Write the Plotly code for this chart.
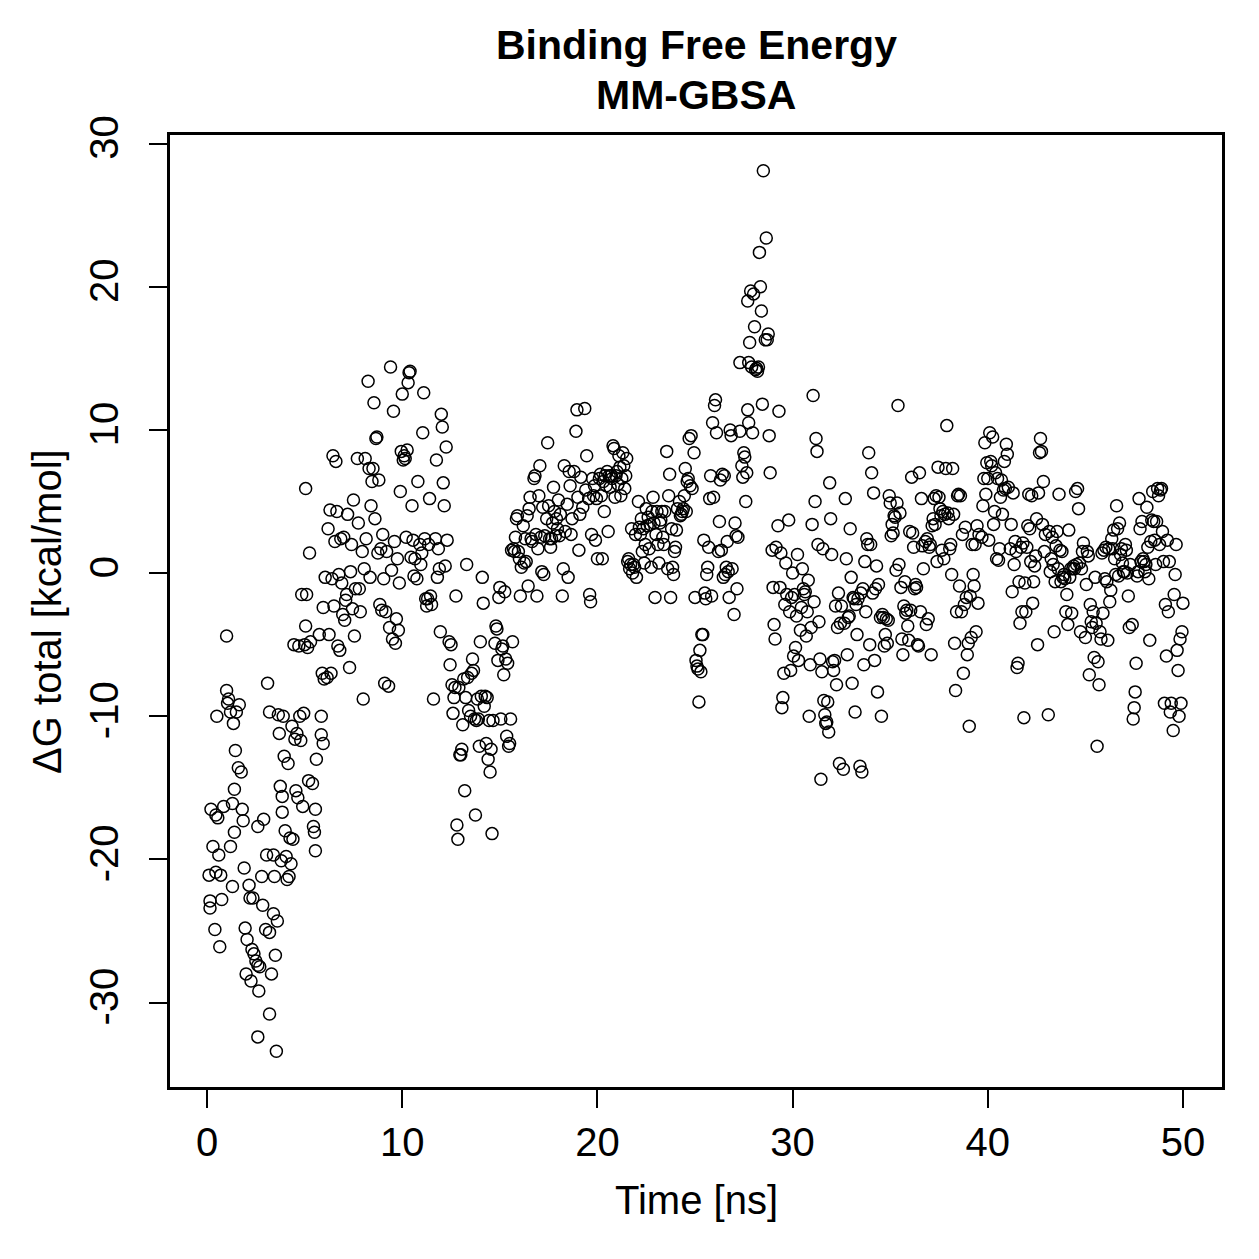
import plotly.graph_objects as go

# ---- data: time [ns] and Delta G total [kcal/mol] ----
t_00_05 = [0.1,0.15,0.15,0.2,0.3,0.4,0.45,0.45,0.5,0.55,
 0.6,0.65,0.7,0.75,0.85,1.0,1.0,1.05,1.1,1.2,
 1.2,1.3,1.3,1.35,1.4,1.4,1.45,1.5,1.6,1.65,
 1.75,1.8,1.85,1.9,1.95,2.0,2.05,2.15,2.2,2.25,
 2.3,2.35,2.4,2.5,2.6,2.6,2.6,2.65,2.7,2.8,
 2.85,2.9,3.0,3.05,3.1,3.2,3.2,3.2,3.3,3.4,
 3.4,3.45,3.5,3.55,3.6,3.65,3.7,3.75,3.8,3.85,
 3.85,3.9,3.95,4.0,4.05,4.1,4.15,4.2,4.25,4.3,
 4.35,4.4,4.45,4.5,4.55,4.6,4.65,4.7,4.75,4.8,
 4.85,4.9,4.95]
g_00_05 = [-21.1,-22.9,-23.4,-16.5,-19.1,-24.9,-16.9,-20.9,-10.0,-17.1,
 -19.7,-26.1,-21.1,-22.8,-16.3,-4.4,-8.2,-9.1,-8.8,-9.7,
 -19.1,-21.9,-16.1,-10.5,-18.1,-15.1,-12.4,-9.7,-13.6,-9.2,
 -13.9,-16.5,-17.3,-20.6,-24.8,-28.0,-25.6,-21.8,-22.7,-28.5,
 -26.3,-22.7,-26.6,-27.1,-32.4,-17.7,-27.4,-29.2,-27.5,-21.2,
 -23.2,-17.2,-24.9,-19.7,-7.7,-9.7,-30.8,-25.1,-28.0,-19.7,
 -23.8,-21.2,-26.7,-33.4,-24.3,-9.9,-11.2,-14.9,-20.1,-15.6,
 -16.7,-10.0,-12.8,-18.0,-19.8,-21.4,-13.3,-21.2,-18.5,-20.3,
 -10.7,-18.6,-5.0,-11.6,-15.2,-11.2,-15.7,-5.1,-10.0,-11.7,
 -1.5,-16.3,-9.8]

t_05_10 = [5.0,5.05,5.05,5.1,5.15,5.2,5.25,5.3,5.4,5.45,
 5.5,5.55,5.55,5.6,5.75,5.85,5.85,5.9,5.95,5.95,
 6.0,6.05,6.15,6.2,6.25,6.3,6.35,6.4,6.45,6.5,
 6.55,6.6,6.65,6.7,6.75,6.8,6.85,6.9,6.95,7.0,
 7.05,7.1,7.15,7.2,7.3,7.35,7.4,7.45,7.5,7.55,
 7.6,7.7,7.75,7.8,7.85,7.95,8.0,8.05,8.1,8.15,
 8.25,8.3,8.35,8.4,8.45,8.5,8.55,8.6,8.65,8.7,
 8.75,8.8,8.85,8.9,8.95,9.0,9.05,9.1,9.15,9.2,
 9.3,9.35,9.4,9.45,9.5,9.55,9.6,9.65,9.7,9.75,
 9.8,9.85,9.9,9.95]
g_05_10 = [-5.0,5.9,-3.7,-1.5,-5.2,-14.5,1.4,-4.8,-14.7,-17.7,
 -18.1,-19.4,-16.5,-13.0,-4.3,-10.0,-11.3,-7.0,-2.4,-11.9,
 -7.4,-0.3,-7.3,3.1,-4.3,4.4,-7.0,-0.4,8.2,-2.3,
 2.2,7.8,4.3,-5.1,-0.1,-5.4,2.4,-0.7,-2.9,2.5,
 -3.3,-1.9,-1.5,4.1,-6.6,0.1,2.0,-2.5,5.1,-4.4,
 -1.1,8.0,3.5,-1.1,-2.7,1.5,-8.8,0.3,8.0,2.4,
 13.4,7.3,-0.3,4.7,6.4,7.3,11.9,3.8,9.4,9.5,
 1.4,6.5,-2.2,1.7,-2.6,2.7,-0.4,-7.7,-2.7,1.5,
 -7.9,-3.8,14.4,0.2,-4.6,11.3,2.2,-4.9,-3.2,1.0,
 -4.0,-0.7,5.7,8.5]

t_10_15 = [10.0,10.05,10.1,10.15,10.2,10.25,10.3,10.35,10.4,10.45,
 10.5,10.55,10.6,10.65,10.75,10.8,10.9,10.95,11.0,11.05,
 11.1,11.15,11.2,11.25,11.3,11.35,11.4,11.45,11.5,11.6,
 11.7,11.75,11.8,11.85,11.9,11.95,12.0,12.05,12.1,12.15,
 12.2,12.25,12.3,12.4,12.45,12.5,12.55,12.6,12.65,12.7,
 12.75,12.8,12.85,12.9,12.95,13.0,13.05,13.1,13.15,13.2,
 13.25,13.3,13.35,13.4,13.5,13.55,13.6,13.65,13.7,13.75,
 13.8,13.85,13.9,13.95,14.0,14.05,14.1,14.15,14.2,14.25,
 14.3,14.35,14.4,14.45,14.5,14.55,14.6,14.65,14.75,14.8,
 14.85,14.9,14.95]
g_10_15 = [12.5,7.9,8.2,8.0,2.5,8.6,13.3,14.0,14.1,1.1,
 4.7,2.3,-0.2,1.0,-0.4,6.4,2.0,0.6,1.4,9.8,
 12.6,2.4,-1.8,-2.3,-1.8,2.0,5.2,-1.6,-2.2,-8.8,
 2.4,7.9,-0.3,1.7,0.3,-4.1,11.1,10.2,6.3,4.7,
 0.5,8.8,2.3,-4.8,-6.4,-5.0,-7.8,-9.8,-8.7,-8.0,
 -1.6,-17.6,-18.6,-8.0,-12.7,-12.7,-12.3,-10.6,-7.4,-15.2,
 -8.7,0.6,-7.3,-9.6,-10.0,-7.0,-6.0,-6.8,-10.2,-16.9,
 -10.3,-8.8,-10.2,-12.1,-4.8,-8.6,-0.3,-2.1,-9.3,-8.6,
 -11.9,-8.7,-13.0,-10.3,-13.9,-12.3,-18.2,-10.3,-4.9,-3.7,
 -3.9,-6.1,-1.7]

t_15_20 = [15.0,15.05,15.1,15.15,15.2,15.25,15.3,15.35,15.4,15.45,
 15.5,15.55,15.6,15.65,15.7,15.75,15.8,15.85,15.9,15.95,
 16.0,16.05,16.1,16.2,16.25,16.3,16.35,16.4,16.45,16.5,
 16.55,16.6,16.65,16.75,16.8,16.85,16.9,16.95,17.0,17.05,
 17.1,17.15,17.2,17.25,17.3,17.4,17.45,17.5,17.55,17.6,
 17.65,17.7,17.75,17.8,17.85,17.9,17.95,18.0,18.05,18.1,
 18.2,18.25,18.3,18.35,18.45,18.5,18.55,18.6,18.65,18.7,
 18.8,18.9,18.95,19.0,19.05,19.1,19.15,19.25,19.35,19.4,
 19.45,19.55,19.6,19.65,19.7,19.75,19.8,19.85,19.9,19.95]
g_15_20 = [-1.0,-10.2,-5.3,-5.1,-7.1,-1.3,-6.0,-11.4,-6.3,-12.1,
 -11.9,-10.2,1.6,-4.8,1.7,1.5,2.5,3.8,4.0,1.5,
 1.0,-1.6,0.4,3.3,0.7,2.4,0.8,4.0,-0.9,4.5,
 5.3,2.4,2.2,6.6,6.8,2.7,-1.6,1.7,5.4,7.5,
 2.5,0.1,4.6,-0.1,2.6,3.8,9.1,4.7,2.4,1.8,
 2.4,3.5,6.0,4.3,2.6,3.8,3.1,5.1,2.6,4.1,
 -1.6,0.3,7.5,2.9,4.8,-0.3,7.1,6.1,2.7,3.8,
 7.1,9.9,11.4,5.3,1.6,4.1,6.7,4.6,11.5,5.8,
 8.2,5.2,-1.5,-2.0,2.7,6.6,5.4,6.1,2.3,5.2]

t_20_25 = [20.0,20.1,20.15,20.2,20.25,20.3,20.35,20.4,20.45,20.5,
 20.55,20.6,20.65,20.7,20.75,20.8,20.85,20.9,20.95,21.0,
 21.05,21.1,21.15,21.2,21.25,21.3,21.35,21.4,21.45,21.5,
 21.55,21.6,21.65,21.7,21.75,21.8,21.85,21.9,21.95,22.0,
 22.1,22.15,22.2,22.25,22.3,22.35,22.4,22.45,22.5,22.55,
 22.6,22.65,22.7,22.75,22.8,22.85,22.9,22.95,23.0,23.05,
 23.1,23.15,23.2,23.25,23.3,23.35,23.4,23.45,23.55,23.6,
 23.65,23.7,23.75,23.8,23.85,23.9,23.95,24.0,24.05,24.1,
 24.2,24.25,24.3,24.35,24.4,24.45,24.5,24.55,24.6,24.65,
 24.7,24.75,24.8,24.85,24.95]
g_20_25 = [1.0,6.6,6.9,5.4,1.0,6.4,4.3,6.8,6.1,7.1,
 2.9,6.8,6.0,6.8,6.6,8.9,8.7,5.3,6.8,7.1,
 6.2,8.2,7.4,5.4,6.6,8.4,7.5,5.9,6.8,8.0,
 0.8,1.0,0.3,0.6,3.1,0.0,0.6,0.4,2.7,-0.3,
 5.0,3.2,2.7,3.8,1.5,3.1,0.7,2.0,4.5,3.3,
 3.9,1.7,3.4,0.4,4.3,5.3,3.5,-1.7,2.7,4.3,
 2.0,0.7,3.5,3.7,4.3,2.5,2.0,4.3,8.5,0.3,
 5.4,6.9,-1.7,3.1,0.4,-0.1,1.5,1.8,3.0,4.5,
 5.0,4.0,4.1,4.3,4.5,5.4,7.3,4.3,6.4,6.6,
 9.4,6.1,9.6,5.9,8.4]

t_25_30 = [25.0,25.05,25.1,25.15,25.2,25.25,25.3,25.35,25.4,25.45,
 25.5,25.55,25.6,25.65,25.7,25.75,25.8,25.85,25.9,25.95,
 26.0,26.05,26.1,26.2,26.25,26.3,26.35,26.4,26.45,26.5,
 26.55,26.6,26.65,26.7,26.75,26.8,26.85,26.9,27.0,27.05,
 27.1,27.15,27.2,27.3,27.3,27.4,27.45,27.5,27.55,27.6,
 27.65,27.7,27.7,27.75,27.75,27.8,27.85,27.9,27.95,28.0,
 28.05,28.1,28.15,28.2,28.25,28.3,28.35,28.4,28.45,28.5,
 28.6,28.65,28.7,28.75,28.8,28.85,28.95,29.0,29.05,29.1,
 29.15,29.25,29.3,29.35,29.4,29.45,29.5,29.55,29.6,29.65,
 29.7,29.8,29.85,29.9,29.95]
g_25_30 = [-1.7,-6.1,-6.5,-6.7,-9.0,-5.4,-6.9,-4.3,-4.3,2.3,
 -1.4,-1.8,-0.1,0.4,1.8,5.2,6.8,-1.6,10.5,5.3,
 11.7,12.1,9.8,1.5,3.6,6.5,1.6,6.9,-0.3,6.8,
 -0.1,0.4,2.2,0.1,-1.7,10.0,9.6,0.3,-2.9,3.5,
 2.6,-1.1,2.5,14.7,9.9,7.5,6.7,8.4,8.1,5.0,
 7.0,11.4,19.0,10.5,14.7,16.1,19.7,14.4,9.8,19.5,
 17.2,14.2,14.3,14.1,14.4,22.4,20.0,18.3,11.8,28.1,
 16.3,23.4,16.3,16.7,9.6,7.0,1.6,-1.0,-3.6,-4.6,
 1.8,3.3,11.3,-1.0,1.4,-9.4,-8.7,-7.0,-2.2,0.7,
 -1.5,3.7,-2.7,-6.8,-1.7]

t_30_35 = [30.0,30.05,30.1,30.15,30.2,30.25,30.3,30.4,30.45,30.5,
 30.55,30.6,30.65,30.7,30.75,30.8,30.85,30.9,30.95,31.0,
 31.05,31.1,31.15,31.2,31.25,31.3,31.35,31.4,31.45,31.5,
 31.55,31.6,31.65,31.7,31.75,31.8,31.85,31.9,31.95,32.0,
 32.05,32.1,32.15,32.2,32.25,32.3,32.35,32.4,32.45,32.5,
 32.6,32.65,32.7,32.75,32.8,32.85,32.9,32.95,33.0,33.05,
 33.1,33.15,33.2,33.25,33.3,33.35,33.45,33.5,33.55,33.6,
 33.65,33.7,33.75,33.8,33.85,33.9,33.95,34.0,34.05,34.1,
 34.15,34.2,34.25,34.3,34.35,34.4,34.5,34.55,34.6,34.65,
 34.7,34.75,34.8,34.85,34.9,34.95]
g_30_35 = [0.0,-5.8,-1.5,-5.2,-3.0,1.3,-6.1,-4.0,-2.4,0.3,
 -1.1,-1.5,-1.3,-4.4,-2.7,-0.5,-10.0,-6.4,-3.8,3.4,
 12.4,-2.0,5.0,9.4,8.5,2.0,-3.4,-6.0,-14.4,-6.9,
 1.7,-8.9,-9.9,-10.5,-10.4,-9.0,-11.1,6.3,3.8,1.3,
 -6.2,-6.8,-6.1,-2.3,-7.8,-3.8,-1.4,-13.3,-3.5,-2.3,
 -13.7,-3.5,5.2,1.0,-5.7,-3.1,-3.0,3.1,-0.3,-7.7,
 -1.7,-1.8,-9.7,-2.2,-4.3,-1.8,-13.5,-1.4,-13.9,-1.1,
 -6.4,0.8,-2.7,2.4,2.0,8.4,-5.0,2.0,7.0,-1.4,
 5.6,-6.1,-1.1,0.5,-8.3,-0.8,-3.1,-10.0,-2.9,-3.1,
 -5.1,-4.3,-3.2,-4.9,-3.3,5.4]

t_35_40 = [35.0,35.05,35.1,35.15,35.2,35.25,35.3,35.35,35.4,35.45,
 35.5,35.55,35.6,35.65,35.7,35.75,35.8,35.85,35.9,35.95,
 36.0,36.05,36.1,36.15,36.2,36.25,36.3,36.35,36.4,36.45,
 36.5,36.55,36.6,36.65,36.7,36.8,36.85,36.9,36.95,37.0,
 37.05,37.1,37.15,37.2,37.25,37.3,37.35,37.4,37.45,37.5,
 37.55,37.6,37.65,37.7,37.75,37.8,37.85,37.9,37.95,38.0,
 38.05,38.1,38.15,38.2,38.25,38.3,38.35,38.4,38.45,38.5,
 38.55,38.6,38.65,38.7,38.75,38.8,38.85,38.9,38.95,39.0,
 39.05,39.1,39.15,39.2,39.25,39.3,39.35,39.4,39.45,39.5,
 39.55,39.7,39.75,39.8,39.85,39.9,39.95]
g_35_40 = [4.9,2.6,3.4,2.8,4.0,3.9,0.2,4.9,11.7,0.6,
 4.2,-1.0,-4.6,-5.7,-2.3,-0.6,-2.8,-2.6,-3.7,-4.7,
 2.9,-2.6,6.7,2.8,1.8,-1.1,-0.8,-1.0,-5.0,-5.1,
 7.0,-2.7,5.2,1.9,0.3,2.2,-3.6,2.4,-3.2,1.8,
 2.0,-5.7,3.3,3.8,5.2,3.4,5.4,0.8,7.4,5.3,
 4.5,4.0,1.6,4.3,1.0,4.1,7.3,10.3,4.2,3.8,
 1.7,2.0,-0.1,7.3,4.1,-4.9,-8.2,-2.7,5.4,5.5,
 -0.9,5.4,-2.7,2.7,-7.0,-2.2,3.2,-1.7,-5.7,-4.9,
 -10.7,-1.6,-4.5,2.0,-0.1,-0.9,2.0,-4.1,3.3,-2.1,
 2.7,2.5,4.7,6.6,9.1,5.5,7.7]

t_40_45 = [40.0,40.05,40.1,40.15,40.2,40.25,40.3,40.35,40.4,40.45,
 40.5,40.55,40.6,40.65,40.7,40.75,40.8,40.85,40.9,40.95,
 41.0,41.05,41.15,41.2,41.25,41.3,41.35,41.4,41.45,41.5,
 41.55,41.6,41.65,41.7,41.75,41.8,41.85,41.9,41.95,42.0,
 42.05,42.1,42.15,42.2,42.25,42.3,42.35,42.4,42.45,42.5,
 42.55,42.6,42.65,42.7,42.75,42.8,42.85,42.9,42.95,43.1,
 43.15,43.2,43.25,43.3,43.35,43.4,43.45,43.5,43.55,43.6,
 43.65,43.7,43.75,43.8,43.85,43.9,43.95,44.0,44.05,44.1,
 44.15,44.2,44.25,44.3,44.35,44.4,44.45,44.5,44.55,44.6,
 44.65,44.7,44.75,44.8,44.85,44.9]
g_40_45 = [6.6,2.3,9.8,7.8,7.5,9.5,3.4,4.3,7.0,1.0,
 6.6,0.9,1.7,5.3,6.5,4.1,5.8,7.8,5.9,9.0,
 8.3,6.0,1.7,3.4,-1.3,5.6,0.6,2.2,1.5,-6.6,
 -6.3,-0.6,-3.5,1.8,-2.7,2.1,-10.1,-0.7,-2.7,1.8,
 3.3,5.5,3.1,0.8,5.4,-2.1,-0.6,0.5,1.2,3.8,
 -5.0,5.6,8.4,9.4,8.5,3.4,6.4,1.5,2.7,-9.9,
 2.9,0.1,1.0,2.5,0.6,-4.1,-0.6,1.9,2.9,0.3,
 5.5,1.6,-0.6,1.5,-0.3,-0.1,-0.4,-2.7,-1.5,-3.6,
 3.0,-0.3,0.3,-2.8,0.3,0.5,0.3,5.7,0.6,5.9,
 4.5,0.7,-4.1,0.3,1.5,2.1]

t_45_50 = [45.0,45.05,45.1,45.15,45.2,45.25,45.3,45.35,45.4,45.45,
 45.5,45.55,45.6,45.65,45.7,45.75,45.8,45.85,45.9,45.95,
 46.0,46.05,46.1,46.15,46.2,46.25,46.3,46.35,46.4,46.45,
 46.5,46.55,46.6,46.65,46.7,46.75,46.8,46.85,46.9,46.95,
 47.0,47.05,47.1,47.15,47.2,47.25,47.3,47.4,47.45,47.5,
 47.55,47.6,47.65,47.7,47.75,47.8,47.85,47.9,47.95,48.0,
 48.05,48.1,48.15,48.2,48.25,48.3,48.35,48.4,48.45,48.5,
 48.55,48.6,48.65,48.7,48.75,48.8,48.85,48.9,48.95,49.0,
 49.05,49.1,49.15,49.2,49.25,49.3,49.35,49.4,49.5,49.55,
 49.6,49.65,49.7,49.75,49.8,49.85,49.9,49.95,50.0]
g_45_50 = [-4.5,-0.8,1.5,1.2,-7.1,-2.2,-3.4,-3.8,-2.7,-5.9,
 -0.3,-3.5,-12.1,-6.2,-7.8,-4.1,-4.6,1.4,-2.8,1.6,
 -0.4,1.8,-0.6,-4.7,1.7,-2.0,-1.2,2.4,1.7,3.0,
 1.0,-0.1,4.7,3.1,-0.2,3.5,1.3,1.7,0.7,0.1,
 0.1,2.0,1.6,0.0,-1.6,-3.8,0.6,-3.6,-10.2,-9.4,
 -8.3,-6.3,-0.2,0.1,5.2,3.1,0.8,3.6,1.0,0.8,
 0.1,0.6,4.6,1.8,-0.4,-4.7,2.2,3.7,5.7,3.6,
 2.3,0.6,3.6,5.9,5.4,2.0,5.8,5.9,2.9,0.8,
 -9.1,-2.2,-5.8,2.3,-2.7,0.8,-9.7,-9.1,-11.0,-1.5,
 -0.1,2.0,-5.4,-6.8,-10.0,-4.6,-9.1,-4.1,-2.1]

x_ticks = [0, 10, 20, 30, 40, 50]
y_ticks = [-30, -20, -10, 0, 10, 20, 30]
title_lines = ["Binding Free Energy", "MM-GBSA"]
x_label = "Time [ns]"
y_label = "ΔG total [kcal/mol]"

segments = [(t_00_05, g_00_05), (t_05_10, g_05_10), (t_10_15, g_10_15),
            (t_15_20, g_15_20), (t_20_25, g_20_25), (t_25_30, g_25_30),
            (t_30_35, g_30_35), (t_35_40, g_35_40), (t_40_45, g_40_45),
            (t_45_50, g_45_50)]
time_ns, dG = [], []
for i, (tt, gg) in enumerate(segments):
    assert len(tt) == len(gg), (i, len(tt), len(gg))
    time_ns += tt
    dG += gg

FONT = "Liberation Sans, Arial, Helvetica, sans-serif"
AX_SIZE = 40

fig = go.Figure()
fig.add_trace(go.Scatter(
    x=time_ns, y=dG, mode="markers",
    marker=dict(symbol="circle-open", size=12, color="black",
                line=dict(color="black", width=1.5)),
    showlegend=False, hoverinfo="skip"))

axis_common = dict(
    showgrid=False, zeroline=False, showline=True, mirror=True,
    linecolor="black", linewidth=2.5, ticks="outside", ticklen=18,
    tickwidth=2, tickcolor="black",
    tickfont=dict(family=FONT, size=AX_SIZE, color="black"))

fig.update_xaxes(range=[-1.9, 52.0], tickvals=x_ticks,
                 ticktext=[str(v) for v in x_ticks],
                 ticklabelstandoff=0, **axis_common)
fig.update_yaxes(range=[-35.9, 30.6], tickvals=y_ticks,
                 ticktext=[str(v) for v in y_ticks], tickangle=-90,
                 ticklabelstandoff=15, **axis_common)

fig.update_layout(
    width=1259, height=1259,
    margin=dict(l=170, r=37, t=135, b=172, pad=0),
    paper_bgcolor="white", plot_bgcolor="white",
    font=dict(family=FONT, color="black"),
    annotations=[
        dict(text="<b>%s</b>" % title_lines[0], x=0.5, y=1.0945,
             xref="paper", yref="paper", xanchor="center", yanchor="middle",
             showarrow=False, font=dict(family=FONT, size=41, color="black")),
        dict(text="<b>%s</b>" % title_lines[1], x=0.5, y=1.042,
             xref="paper", yref="paper", xanchor="center", yanchor="middle",
             showarrow=False, font=dict(family=FONT, size=41, color="black")),
        dict(text=x_label, x=0.5, y=-0.1187, xref="paper", yref="paper",
             xanchor="center", yanchor="middle", showarrow=False,
             font=dict(family=FONT, size=AX_SIZE, color="black")),
        dict(text=y_label, x=-0.117, y=0.5, xref="paper", yref="paper",
             xanchor="center", yanchor="middle", textangle=-90,
             showarrow=False, font=dict(family=FONT, size=AX_SIZE, color="black")),
    ],
)

fig.write_html("out.html")
